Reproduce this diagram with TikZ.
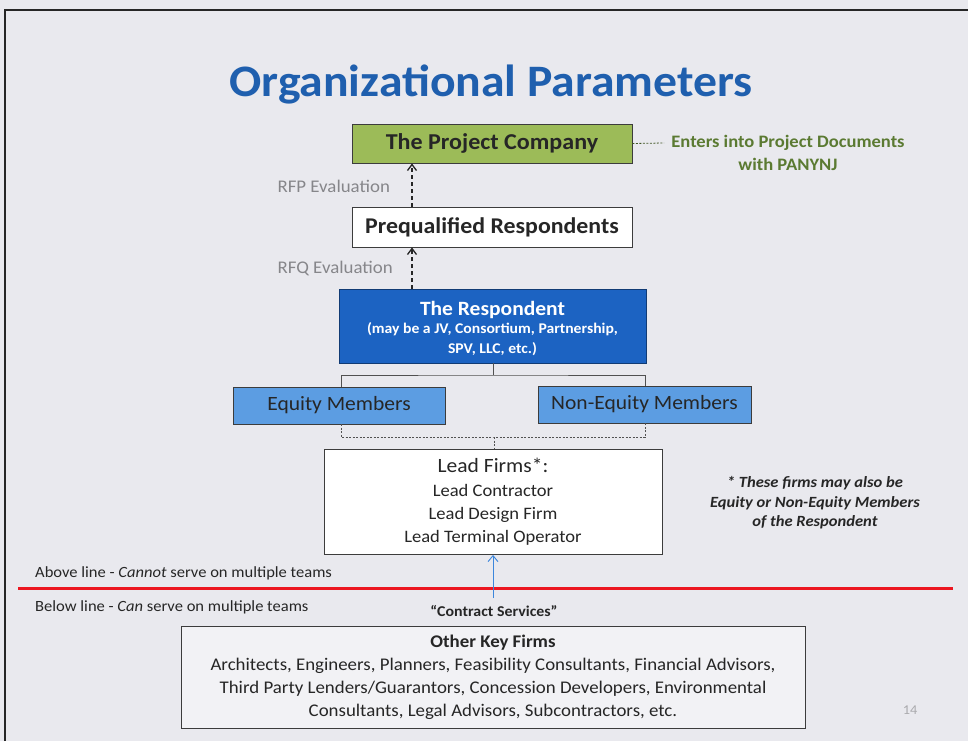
\documentclass[tikz,border=0pt]{standalone}
\usepackage{fontspec}
\setmainfont{Carlito}[FakeStretch=1.06]
\usetikzlibrary{arrows.meta}
\definecolor{bg}{HTML}{E9E9EE}
\definecolor{titleblue}{HTML}{1F5FAE}
\definecolor{pcgreen}{HTML}{9CBB58}
\definecolor{notegreen}{HTML}{5B7A32}
\definecolor{respblue}{HTML}{1C63C2}
\definecolor{memblue}{HTML}{5C9DE2}
\definecolor{arrowblue}{HTML}{3C86DC}
\definecolor{evalgray}{HTML}{86868A}
\definecolor{linered}{HTML}{EC1620}
\definecolor{txt}{HTML}{262626}
\tikzset{
  box/.style={draw=txt!90, line width=0.9pt, inner sep=0pt, align=center, text=txt},
  evalnote/.style={text=evalgray, font=\fontsize{17.8}{20}\selectfont, anchor=west},
  dasharrow/.style={draw=txt, line width=1.3pt, dash pattern=on 4pt off 3pt, -{Straight Barb[length=6pt,width=9pt,line width=1.3pt]}},
  conn/.style={draw=txt!80, line width=0.8pt},
  dconn/.style={draw=txt!80, line width=0.8pt, dash pattern=on 2pt off 1.5pt},
  plain/.style={text=txt, inner sep=0pt}
}
\begin{document}
\begin{tikzpicture}[x=1pt,y=-1pt]
\fill[bg] (0,0) rectangle (968,741);
\useasboundingbox (0,0) rectangle (968,741);
% slide frame
\draw[line width=2pt, draw=black!85] (5,741) -- (5,10) -- (968,10);

% title
\node[font=\fontsize{45}{50}\selectfont\bfseries, text=titleblue] (title) at (491,84) {Organizational Parameters};

% project company
\node[box, fill=pcgreen, minimum width=280pt, minimum height=39pt, font=\fontsize{22.7}{26}\selectfont\bfseries] (pc) at (492,143.5) {The Project Company};
\coordinate (pcnote) at (664,143);
\draw[dconn, draw=notegreen!70!black] (pc.east) -- (pcnote);
\node[text=notegreen, font=\fontsize{17.5}{23}\selectfont\bfseries, align=center] (note) at (788,153) {Enters into Project Documents\\with PANYNJ};

% prequalified
\node[box, fill=white, minimum width=280pt, minimum height=40pt, font=\fontsize{22.5}{26}\selectfont\bfseries] (pq) at (492,227) {Prequalified Respondents};
\draw[dasharrow] ([xshift=-80pt]pq.north) -- ([xshift=-80pt]pc.south);
\node[evalnote] (rfp) at (274,186) {RFP Evaluation};

% respondent
\node[box, fill=respblue, draw=respblue!60!black, minimum width=307pt, minimum height=74pt] (resp) at (492.5,326) {};
\node[text=white, align=center, inner sep=0pt, font=\fontsize{14.8}{20.5}\selectfont\bfseries] (resptext) at (492.5,328.5) {{\fontsize{20.3}{22}\selectfont The Respondent}\\[-3pt](may be a JV, Consortium, Partnership,\\SPV, LLC, etc.)};
\coordinate (rq) at (412,289);
\draw[dasharrow] (rq) -- (rq |- pq.south);
\node[evalnote] (rfq) at (274,268) {RFQ Evaluation};

% members
\node[box, fill=memblue, minimum width=212pt, minimum height=37pt, font=\fontsize{20.3}{22}\selectfont] (eq) at (339,405.5) {Equity Members};
\node[box, fill=memblue, minimum width=213pt, minimum height=37pt, font=\fontsize{20.3}{22}\selectfont] (neq) at (644.5,404.5) {Non-Equity Members};
\coordinate (split) at (493,375);
\draw[conn] (resp.south -| split) -- (split);
\draw[conn] (341,387) |- (split) -| (645,386);
\coordinate (join) at (494,437);
\draw[dconn] (341,424) |- (join) -| (645,423);

% lead firms
\node[box, fill=white, minimum width=338pt, minimum height=105pt, font=\fontsize{17.5}{23}\selectfont] (lead) at (493,502) {{\fontsize{20.3}{24}\selectfont Lead Firms*:}\\[1pt]Lead Contractor\\Lead Design Firm\\Lead Terminal Operator};
\draw[dconn] (join) -- (lead.north -| join);

\node[text=txt, font=\fontsize{15.6}{19.5}\selectfont\bfseries\itshape, align=center] (fn) at (815,503) {* These firms may also be\\Equity or Non-Equity Members\\of the Respondent};

% red line
\coordinate (rl) at (18,588);
\coordinate (rr) at (953,588);
\draw[linered, line width=3pt] (rl) -- (rr);
\node[plain, font=\fontsize{15.6}{17}\selectfont, anchor=west] (above) at (35,573) {Above line - \textit{Cannot} serve on multiple teams};
\node[plain, font=\fontsize{15.6}{17}\selectfont, anchor=west] (below) at (35,607) {Below line - \textit{Can} serve on multiple teams};

\coordinate (csa) at (493,598);
\draw[draw=arrowblue, line width=0.9pt, -{Straight Barb[length=6pt,width=10pt,line width=0.9pt]}] (csa) -- (lead.south -| csa);
\node[plain, font=\fontsize{15}{17}\selectfont\bfseries] (cs) at (494,611) {“Contract Services”};

% other key firms
\node[box, fill=bg!60!white, minimum width=624pt, minimum height=102pt, font=\fontsize{17.8}{23}\selectfont] (okf) at (493,677) {{\bfseries Other Key Firms}\\Architects, Engineers, Planners, Feasibility Consultants, Financial Advisors,\\Third Party Lenders/Guarantors, Concession Developers, Environmental\\Consultants, Legal Advisors, Subcontractors, etc.};

\node[text=evalgray!70, font=\fontsize{13.5}{15}\selectfont] (pg) at (910,710) {14};
\end{tikzpicture}
\end{document}
